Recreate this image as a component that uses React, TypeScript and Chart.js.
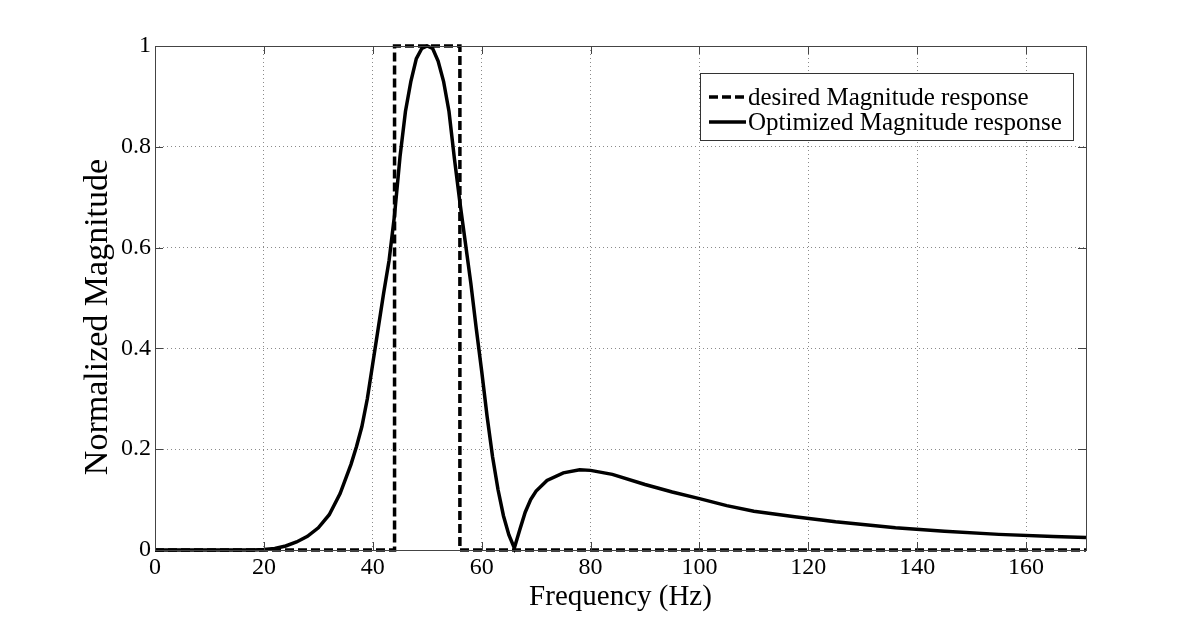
import React, { useEffect, useRef } from 'react';
import { Chart, registerables } from 'chart.js';

Chart.register(...registerables);

const xTickValues = [0, 20, 40, 60, 80, 100, 120, 140, 160];
const yTickValues = [0, 0.2, 0.4, 0.6, 0.8, 1];
const xMax = 171;

const seriesLabels = ['desired Magnitude response', 'Optimized Magnitude response'];
const xTitle = 'Frequency (Hz)';
const yTitle = 'Normalized Magnitude';

const desiredFreq = [0, 44, 44, 56, 56, 171];
const desiredMag = [0, 0, 1, 1, 0, 0];

const optFreq = [
  0, 10, 18, 20, 22, 24, 26, 28, 30, 32, 34, 36, 37, 38, 39, 40, 41, 42, 43, 44, 45, 46, 47, 48, 49, 50,
  51, 52, 53, 54, 55, 56, 57, 58, 59, 60, 61, 62, 63, 64, 65, 66, 67, 68, 69, 70, 72, 75, 78, 80, 84, 90,
  95, 100, 105, 110, 117.5, 125, 136, 145, 155, 165, 171,
];
const optMag = [
  0, 0, 0, 0.001, 0.003, 0.008, 0.016, 0.027, 0.044, 0.07, 0.112, 0.17, 0.205, 0.245, 0.3, 0.37, 0.44, 0.51, 0.575, 0.665, 0.78, 0.87, 0.93, 0.975, 0.995, 1.0,
  0.995, 0.97, 0.93, 0.87, 0.776, 0.69, 0.61, 0.53, 0.44, 0.355, 0.265, 0.185, 0.12, 0.068, 0.03, 0.004, 0.04, 0.075, 0.1, 0.117, 0.138, 0.153, 0.159, 0.158, 0.15, 0.13,
  0.115, 0.102, 0.088, 0.077, 0.066, 0.056, 0.044, 0.037, 0.031, 0.027, 0.025,
];

const SERIF = '"Liberation Serif", "Times New Roman", serif';

const framePlugin = {
  id: 'matlabFrame',
  afterDraw(chart: any) {
    const { ctx, chartArea } = chart;
    const { left, right, top, bottom } = chartArea;
    const xs = chart.scales.x;
    const ys = chart.scales.y;
    const tl = 8;
    ctx.save();
    ctx.strokeStyle = '#444';
    ctx.lineWidth = 1;
    ctx.setLineDash([]);
    ctx.beginPath();
    for (const v of xTickValues) {
      const px = Math.round(xs.getPixelForValue(v)) + 0.5;
      ctx.moveTo(px, bottom);
      ctx.lineTo(px, bottom - tl);
      ctx.moveTo(px, top);
      ctx.lineTo(px, top + tl);
    }
    for (const v of yTickValues) {
      const py = Math.round(ys.getPixelForValue(v)) + 0.5;
      ctx.moveTo(left, py);
      ctx.lineTo(left + tl, py);
      ctx.moveTo(right, py);
      ctx.lineTo(right - tl, py);
    }
    ctx.stroke();
    ctx.strokeRect(Math.round(left) + 0.5, Math.round(top) + 0.5, Math.round(right - left), Math.round(bottom - top));

    // y axis title
    ctx.save();
    ctx.translate(107, 317);
    ctx.rotate(-Math.PI / 2);
    ctx.font = `34px ${SERIF}`;
    ctx.fillStyle = '#000';
    ctx.textAlign = 'center';
    ctx.textBaseline = 'alphabetic';
    ctx.fillText(yTitle, 0, 0);
    ctx.restore();

    // legend
    const bx = 700, by = 73, bw = 373, bh = 67;
    ctx.fillStyle = '#ffffff';
    ctx.fillRect(bx, by, bw, bh);
    ctx.strokeStyle = '#333';
    ctx.lineWidth = 1;
    ctx.strokeRect(bx + 0.5, by + 0.5, bw, bh);
    const rows = [
      { y: 97, dash: [9, 4], label: seriesLabels[0] },
      { y: 122, dash: [], label: seriesLabels[1] },
    ];
    ctx.font = `25px ${SERIF}`;
    ctx.textBaseline = 'middle';
    ctx.textAlign = 'left';
    for (const r of rows) {
      ctx.strokeStyle = '#000';
      ctx.lineWidth = 3.5;
      ctx.setLineDash(r.dash);
      ctx.beginPath();
      ctx.moveTo(709, r.y);
      ctx.lineTo(746, r.y);
      ctx.stroke();
      ctx.setLineDash([]);
      ctx.fillStyle = '#000';
      ctx.fillText(r.label, 748, r.y + 1);
    }
    ctx.restore();
  },
};

export default function App() {
  const canvasRef = useRef<HTMLCanvasElement | null>(null);

  useEffect(() => {
    const canvas = canvasRef.current;
    if (!canvas) return;
    const chart = new Chart(canvas, {
      type: 'line',
      data: {
        datasets: [
          {
            label: seriesLabels[0],
            data: desiredFreq.map((f, i) => ({ x: f, y: desiredMag[i] })),
            borderColor: '#000',
            borderWidth: 3.5,
            borderDash: [9, 4],
            pointRadius: 0,
            tension: 0,
            fill: false,
            clip: 10,
          },
          {
            label: seriesLabels[1],
            data: optFreq.map((f, i) => ({ x: f, y: optMag[i] })),
            borderColor: '#000',
            borderWidth: 3.5,
            pointRadius: 0,
            tension: 0,
            fill: false,
            clip: 10,
          },
        ],
      },
      options: {
        responsive: false,
        animation: false,
        devicePixelRatio: 1,
        layout: { padding: { left: 0, top: 46, right: 114, bottom: 0 } },
        plugins: {
          legend: { display: false },
          tooltip: { enabled: false },
          title: { display: false },
        },
        scales: {
          x: {
            type: 'linear',
            min: 0,
            max: xMax,
            afterBuildTicks: (scale: any) => {
              scale.ticks = xTickValues.map((v) => ({ value: v }));
            },
            afterFit: (scale: any) => {
              scale.height = 68;
            },
            ticks: {
              color: '#000',
              font: { family: SERIF, size: 24 },
              padding: 3,
              maxRotation: 0,
              autoSkip: false,
              callback: (v: any) => String(v),
            },
            grid: {
              color: '#8a8a8a',
              lineWidth: 1,
              drawTicks: false,
            },
            border: { display: false, dash: [1, 3] },
            title: {
              display: true,
              text: xTitle,
              color: '#000',
              font: { family: SERIF, size: 29 },
              padding: { top: 0, bottom: 3 },
            },
          },
          y: {
            type: 'linear',
            min: 0,
            max: 1,
            afterBuildTicks: (scale: any) => {
              scale.ticks = yTickValues.map((v) => ({ value: v }));
            },
            afterFit: (scale: any) => {
              scale.width = 155;
            },
            ticks: {
              color: '#000',
              font: { family: SERIF, size: 24 },
              padding: 4,
              autoSkip: false,
              callback: (v: any) => String(v),
            },
            grid: {
              color: '#8a8a8a',
              lineWidth: 1,
              drawTicks: false,
            },
            border: { display: false, dash: [1, 3] },
            title: { display: false },
          },
        },
      },
      plugins: [framePlugin],
    });
    return () => chart.destroy();
  }, []);

  return (
    <div style={{ position: 'fixed', left: 0, top: 0, width: 1200, height: 618, background: '#fff' }}>
      <canvas ref={canvasRef} width={1200} height={618} style={{ display: 'block', width: 1200, height: 618 }} />
    </div>
  );
}
